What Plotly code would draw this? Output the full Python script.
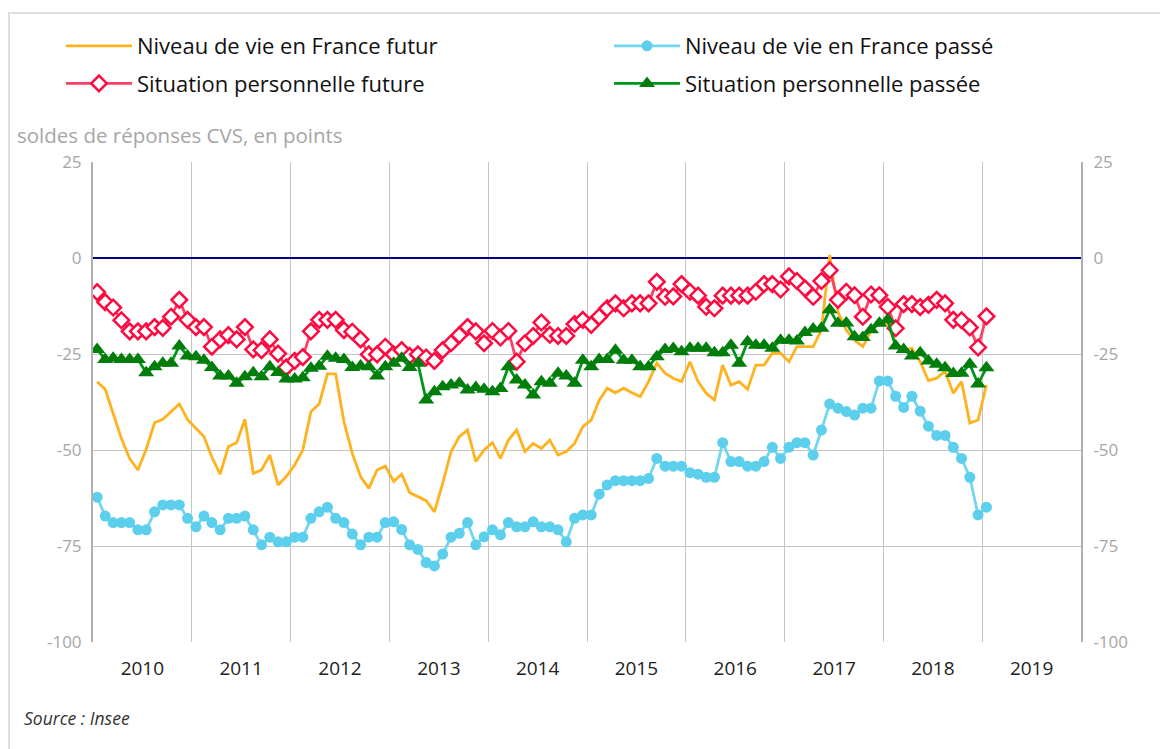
import pandas as pd
import plotly.graph_objects as go

# ---- data (monthly, Jan 2010 .. Jan 2019) ----
start_month = "2010-01-01"
n_months = 109
months = pd.date_range(start_month, periods=n_months, freq="MS").strftime("%Y-%m-%d").tolist()

niveau_futur = [
    -32.2, -34.2, -40.5, -47.0, -52.2, -55.2, -49.8, -42.9, -42.0, -40.0, -38.0, -42.1,
    -44.4, -46.5, -51.9, -56.3, -49.1, -48.1, -42.0, -56.1, -55.2, -51.3, -59.1, -56.9,
    -53.9, -50.0, -40.0, -38.0, -30.2, -30.2, -42.6, -50.9, -56.9, -60.0, -55.2, -54.2,
    -58.2, -56.3, -61.1, -62.2, -63.2, -66.1, -58.7, -50.4, -46.5, -44.8, -53.0, -50.0,
    -48.1, -52.2, -47.4, -44.8, -50.4, -48.3, -49.6, -47.4, -51.3, -50.4, -48.3, -43.9,
    -42.2, -37.1, -33.9, -35.1, -33.9, -35.1, -36.1, -32.2, -27.4, -30.0, -31.3, -32.2,
    -27.0, -32.2, -35.2, -37.0, -27.9, -33.1, -32.2, -34.2, -27.9, -27.9, -24.8, -24.8,
    -27.0, -23.1, -23.1, -23.1, -18.8, 0.8, -14.0, -18.8, -21.4, -23.1, -19.0, -17.0,
    -17.0, -23.0, -24.0, -23.5, -27.0, -31.9, -31.3, -29.5, -35.2, -32.2, -43.0, -42.2,
    -33.0,
]

niveau_passe = [
    -62.3, -67.2, -68.9, -68.9, -68.9, -70.8, -70.8, -66.1, -64.3, -64.3, -64.3, -67.8,
    -70.0, -67.2, -68.9, -70.8, -67.8, -67.8, -67.2, -70.8, -74.7, -72.7, -73.9, -73.9,
    -72.7, -72.7, -67.8, -66.1, -64.9, -67.8, -68.9, -71.9, -74.7, -72.7, -72.7, -68.9,
    -68.7, -70.7, -74.7, -75.9, -79.3, -80.2, -77.1, -72.7, -71.7, -68.9, -74.7, -72.6,
    -70.8, -72.1, -68.9, -70.0, -70.0, -68.7, -70.0, -70.0, -70.8, -73.9, -67.8, -66.9,
    -66.9, -61.5, -59.1, -58.0, -58.0, -58.0, -58.0, -57.4, -52.2, -54.2, -54.2, -54.2,
    -55.9, -56.3, -57.1, -57.1, -48.1, -53.0, -53.0, -54.2, -54.2, -53.0, -49.3, -52.2,
    -49.3, -48.1, -48.1, -51.3, -44.8, -38.0, -39.1, -40.0, -40.9, -39.1, -39.1, -32.0,
    -32.0, -36.0, -38.9, -36.0, -39.9, -43.8, -46.2, -46.2, -49.3, -52.2, -57.1, -66.9,
    -64.9,
]

perso_future = [
    -8.9, -11.5, -12.9, -16.2, -19.1, -19.1, -19.1, -18.0, -18.2, -15.3, -10.9, -16.1,
    -18.0, -18.0, -23.1, -21.2, -20.1, -21.2, -18.0, -23.8, -24.0, -21.2, -24.9, -28.5,
    -26.8, -25.8, -19.1, -16.1, -16.1, -16.1, -18.8, -19.2, -21.2, -25.1, -25.1, -23.1,
    -25.1, -24.0, -25.5, -25.1, -25.9, -26.8, -24.0, -22.2, -20.1, -18.0, -19.1, -22.2,
    -19.0, -20.7, -19.0, -27.0, -22.2, -20.3, -16.8, -20.0, -20.3, -20.3, -17.2, -16.1,
    -17.4, -15.3, -13.1, -11.8, -13.1, -11.8, -11.8, -11.8, -6.2, -10.1, -10.0, -6.8,
    -8.8, -9.8, -12.7, -13.1, -9.8, -9.8, -9.8, -9.8, -8.8, -6.8, -6.8, -8.2,
    -4.8, -6.0, -7.9, -10.1, -6.0, -3.2, -10.9, -8.8, -9.7, -15.3, -9.5, -9.7,
    -12.7, -18.3, -12.0, -12.0, -12.8, -12.2, -10.9, -11.8, -16.1, -16.2, -18.1, -23.3,
    -15.2,
]

perso_passee = [
    -23.8, -26.4, -26.1, -26.4, -26.4, -26.4, -29.9, -28.3, -27.4, -27.4, -22.9, -25.5,
    -25.7, -26.6, -28.5, -30.7, -30.7, -32.6, -30.9, -29.9, -30.9, -28.3, -29.8, -31.5,
    -31.5, -31.2, -28.7, -28.2, -25.6, -26.1, -26.4, -28.5, -28.1, -28.3, -30.7, -28.3,
    -27.4, -26.1, -28.5, -27.4, -37.0, -34.8, -33.5, -33.1, -32.6, -34.4, -33.7, -34.2,
    -34.8, -34.0, -28.3, -31.8, -33.1, -35.7, -32.2, -32.6, -30.0, -30.7, -32.6, -26.6,
    -28.3, -26.4, -26.4, -24.0, -26.6, -26.6, -28.3, -28.3, -25.7, -23.8, -23.6, -24.4,
    -23.5, -23.5, -23.5, -24.7, -24.7, -22.7, -27.4, -21.8, -22.7, -22.7, -23.5, -21.4,
    -21.4, -21.6, -19.4, -18.5, -18.3, -13.5, -17.0, -16.9, -20.5, -20.7, -18.7, -17.0,
    -16.1, -22.9, -23.8, -25.5, -24.7, -26.8, -27.7, -28.6, -30.1, -30.0, -27.7, -32.8,
    -28.6,
]

series_names = [
    "Niveau de vie en France futur",
    "Niveau de vie en France passé",
    "Situation personnelle future",
    "Situation personnelle passée",
]
y_tickvals = [25, 0, -25, -50, -75, -100]
y_ticktext = ["25", "0", "-25", "-50", "-75", "-100"]
y_range = [-100, 25]
x_range = ["2010-01-01", "2020-01-01"]

# ---- figure ----
FONT = "Open Sans"
W, H = 1160, 741           # page body adds an 8 px offset
L, R, T, B = 85, 87, 154, 107
PW, PH = W - L - R, H - T - B
fig = go.Figure()

common = dict(x=months, xperiod="M1", xperiodalignment="middle", hoverinfo="x+y")

fig.add_trace(go.Scatter(y=niveau_futur, name=series_names[0], mode="lines",
                         line=dict(color="#FFB21E", width=2.8),
                         legend="legend", legendgroup="a", **common))
fig.add_trace(go.Scatter(y=niveau_passe, name=series_names[1], mode="lines+markers",
                         line=dict(color="#72D6F0", width=2.8),
                         marker=dict(symbol="circle", size=11, color="#5CCFEC"),
                         legend="legend2", legendgroup="b", **common))
fig.add_trace(go.Scatter(y=perso_future, name=series_names[2], mode="lines+markers",
                         line=dict(color="#FF3F66", width=2.8),
                         marker=dict(symbol="diamond", size=12, color="white",
                                     line=dict(color="#FF0A40", width=2.5)),
                         legend="legend", legendgroup="c", **common))
fig.add_trace(go.Scatter(y=perso_passee, name=series_names[3], mode="lines+markers",
                         line=dict(color="#00961A", width=2.8),
                         marker=dict(symbol="triangle-up", size=14, color="#007D0A"),
                         legend="legend2", legendgroup="d", yaxis="y2", **common))

tickfont = dict(family=FONT, size=17, color="#a6a6a6")
legend_common = dict(xref="container", yref="container", y=1.0 - 17 / H,
                     xanchor="left", yanchor="top", orientation="v",
                     font=dict(family=FONT, size=22, color="#111111"),
                     tracegroupgap=6, itemwidth=66, bgcolor="rgba(0,0,0,0)")

fig.update_layout(
    width=W, height=H,
    paper_bgcolor="white", plot_bgcolor="white",
    margin=dict(l=L, r=R, t=T, b=B, autoexpand=False),
    font=dict(family=FONT),
    showlegend=True,
    legend=dict(x=53 / W, **legend_common),
    legend2=dict(x=601 / W, **legend_common),
    xaxis=dict(
        type="date", range=x_range, automargin=False,
        dtick="M12", tick0="2010-01-01", tickformat="%Y", ticklabelmode="period",
        showgrid=True, gridcolor="#c4c4c4", gridwidth=1,
        ticks="", showline=False, zeroline=False,
        tickfont=dict(family=FONT, size=19, color="#222222"),
        ticklabelstandoff=13, tickangle=0,
        minor=dict(dtick="M12", tick0="2010-01-01", ticks="outside", ticklen=38,
                   tickcolor="#c4c4c4", tickwidth=1, showgrid=False),
    ),
    yaxis=dict(
        range=y_range, tickvals=y_tickvals, ticktext=y_ticktext,
        showgrid=True, gridcolor="#c4c4c4",
        zeroline=True, zerolinecolor="#000080", zerolinewidth=2, automargin=False,
        showline=True, linecolor="#b0b0b0", linewidth=2,
        ticks="", tickfont=tickfont, ticklabelstandoff=6,
    ),
    yaxis2=dict(
        range=y_range, tickvals=y_tickvals, ticktext=y_ticktext,
        overlaying="y", side="right", automargin=False,
        showgrid=False, zeroline=False, showline=True, linecolor="#b0b0b0", linewidth=2,
        ticks="", tickfont=tickfont, ticklabelstandoff=7,
    ),
    annotations=[
        dict(text="soldes de réponses CVS, en points", xref="paper", yref="paper",
             x=-78 / PW, y=(PH + 27) / PH, xanchor="left", yanchor="middle",
             showarrow=False, font=dict(family=FONT, size=20.5, color="#a6a6a6")),
        dict(text="<i>Source : Insee</i>", xref="paper", yref="paper",
             x=-71 / PW, y=-76 / PH, xanchor="left", yanchor="middle",
             showarrow=False, font=dict(family=FONT, size=17.5, color="#333333")),
    ],
    shapes=[
        dict(type="rect", xref="paper", yref="paper",
             x0=-84 / PW, x1=1.2, y0=-0.4, y1=(PH + 149) / PH,
             line=dict(color="#dedede", width=2), fillcolor="rgba(0,0,0,0)", layer="above"),
    ],
)

fig.write_html("out.html")
